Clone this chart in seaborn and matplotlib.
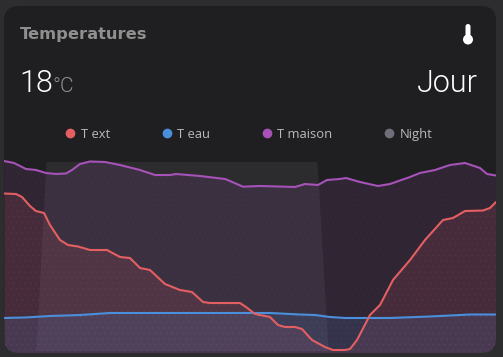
import matplotlib
matplotlib.use("Agg")
import matplotlib.pyplot as plt
import matplotlib.transforms as mtrans
import seaborn as sns
import pandas as pd
from matplotlib.patches import FancyBboxPatch, Circle
from matplotlib.lines import Line2D

# time index along the chart, and temperatures in degrees
ext_t = [0,12,18,26,32,40,46,56,64,74,86,103,116,126,136,146,161,176,188,199,206,236,242,251,261,266,274,281,291,298,308,321,329,341,346,353,366,376,389,406,421,439,449,461,479,486,492]
ext_v = [18.85,18.8,18.5,17.6,17.1,16.9,15.7,14.2,13.7,13.55,13.2,13.2,12.5,12.4,11.4,11.2,9.8,9.2,9.0,8.0,7.9,7.9,7.5,6.8,6.6,6.5,5.7,5.5,5.5,5.3,4.2,3.5,3.2,3.2,3.3,4.2,6.7,7.7,10.2,12.2,14.2,16.2,16.4,17.1,17.15,17.4,18.0]
eau_t = [0,21,46,76,106,166,251,266,296,311,326,341,361,386,426,466,492]
eau_v = [6.4,6.45,6.6,6.7,6.9,6.9,6.9,6.9,6.75,6.7,6.5,6.4,6.4,6.4,6.55,6.75,6.75]
maison_t = [0,10,22,32,42,52,62,68,76,86,101,116,136,151,166,172,196,221,226,239,256,291,301,314,323,336,342,356,374,386,406,416,431,446,461,476,483,492]
maison_v = [22.1,21.9,21.3,21.2,20.9,20.8,20.85,21.2,21.8,22.05,22.0,21.7,21.2,20.7,20.7,20.8,20.6,20.3,20.1,19.53,19.6,19.5,19.8,19.7,20.2,20.3,20.4,20.0,19.6,19.8,20.5,20.9,21.2,21.7,21.9,21.4,20.8,20.65]
night_t = [32,42,313,324]
night_v = [3.2,22.0,22.0,3.2]
legend_labels = ["T ext", "T eau", "T maison", "Night"]

RED, BLUE, PURPLE, GREY = "#e45f62", "#4a8fdb", "#a652b8", "#6f6f7a"
OUTER, CARD = "#2d2d2f", "#1f1f21"
BASE = 2.5

sns.set_theme(style="dark", rc={"axes.facecolor": OUTER, "figure.facecolor": OUTER})
plt.rcParams["font.family"] = ["Open Sans", "DejaVu Sans"]
plt.rcParams["hatch.linewidth"] = 0.3

fig = plt.figure(figsize=(5.03, 3.57), dpi=100)
ax = fig.add_axes([0, 0, 1, 1])
ax.axis("off")
px = mtrans.Affine2D().scale(1 / 503, -1 / 357).translate(0, 1) + fig.transFigure

card = FancyBboxPatch((4, 6), 492, 347, boxstyle="round,pad=0,rounding_size=15",
                      transform=px, fc=CARD, ec="none", zorder=0)
ax.add_patch(card)

series = [(ext_t, ext_v, RED, 0.135), (eau_t, eau_v, BLUE, 0.15), (maison_t, maison_v, PURPLE, 0.125)]
artists = [ax.fill_between(night_t, night_v, BASE + 0.7, color="#8a8a92", alpha=0.13, lw=0, zorder=1)]
for t, v, c, a in series:
    artists.append(ax.fill_between(t, v, BASE, color=c, alpha=a, lw=0, zorder=1))
    artists.append(ax.fill_between(t, v, BASE, facecolor="none", edgecolor=matplotlib.colors.to_rgba(c, 0.07),
                                   hatch="...", lw=0, zorder=1))
for t, v, c, a in series[::-1]:
    df = pd.DataFrame({"t": t, "v": v})
    sns.lineplot(data=df, x="t", y="v", color=c, lw=1.5, ax=ax, estimator=None, sort=False, legend=False, zorder=3,
                 solid_joinstyle="round")
for a in artists + list(ax.lines):
    a.set_clip_path(card)
ax.set_xlim(-4, 499)
ax.set_ylim(2.5, 38.2)

def T(x, y, s, **k):
    fig.text(x / 503, 1 - y / 357, s, **k)

LIGHT = ["Roboto", "DejaVu Sans"]
T(20, 34, "Temperatures", color="#8f8f8f", fontsize=11.7, family=["DejaVu Sans"], fontweight="bold", va="center", ha="left")
T(19, 84, "18", color="white", fontsize=22, family=LIGHT, fontweight=300, va="center", ha="left")
T(52, 87, "°C", color="#8f8f8f", fontsize=15, family=LIGHT, fontweight=300, va="center", ha="left")
T(478, 84, "Jour", color="white", fontsize=22, family=LIGHT, fontweight=300, va="center", ha="right")

# thermometer icon
ax.add_patch(FancyBboxPatch((465.5, 24), 5, 15, boxstyle="round,pad=0,rounding_size=2.5", fc="white", ec="none", transform=px, zorder=4))
ax.add_patch(Circle((468, 39.5), 5, fc="white", ec="none", transform=px, zorder=4))

handles = [Line2D([], [], ls="none", marker="o", ms=7, mfc=c, mec="none") for c in (RED, BLUE, PURPLE, GREY)]
fig.legend(handles, legend_labels, loc="center", bbox_to_anchor=(249 / 503, 1 - 134.5 / 357), ncols=4, frameon=False,
           fontsize=9.4, labelcolor="#b9b9b9", handlelength=0.75, handletextpad=0.4, columnspacing=4.0)

fig.savefig("out.png", dpi=100, facecolor=OUTER)
